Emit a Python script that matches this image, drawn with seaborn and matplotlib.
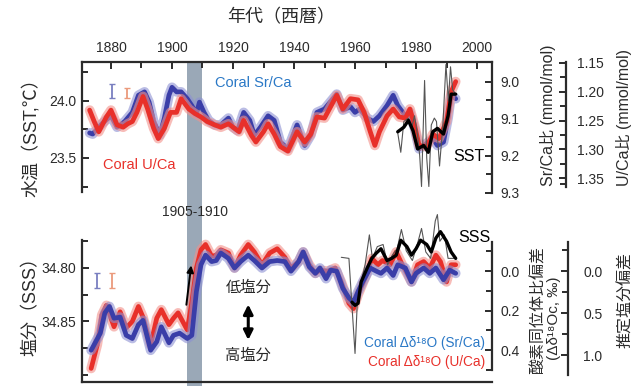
import matplotlib
matplotlib.use("Agg")
import pandas as pd
import matplotlib.pyplot as plt
import seaborn as sns

# ---- data ----
# top panel: coral SST reconstructions (deg C)
srca_years = [1873, 1874, 1877, 1880, 1882, 1884.5, 1887, 1889, 1891, 1892.5, 1894, 1896,
              1897.5, 1899, 1900, 1901.5, 1903, 1905, 1906.5, 1908, 1909, 1910.5, 1912, 1914,
              1916, 1918.5, 1920, 1921.5, 1923.5, 1925.5, 1927, 1929, 1931.5, 1933.5, 1935.5,
              1938, 1941, 1943.5, 1945.5, 1947.5, 1950, 1954, 1956, 1958.5, 1960, 1961.5, 1964,
              1966, 1968, 1970.5, 1972.5, 1974, 1976.5, 1978, 1979.5, 1981, 1983.5, 1985.5,
              1987, 1989, 1990.5, 1991.5, 1993]
srca_sst = [23.72, 23.71, 23.80, 23.87, 23.77, 23.82, 23.90, 24.05, 24.08, 23.99, 23.82, 23.70,
            23.85, 24.05, 24.12, 24.08, 24.08, 24.02, 23.96, 23.89, 23.99, 23.90, 23.83, 23.79,
            23.79, 23.85, 23.77, 23.74, 23.90, 23.83, 23.70, 23.77, 23.87, 23.83, 23.64,
            23.58, 23.79, 23.61, 23.70, 23.90, 23.93, 24.06, 23.92, 23.95, 23.90, 23.93, 23.85,
            23.82, 23.87, 23.96, 24.05, 23.96, 23.87, 23.90, 23.76, 23.58, 23.63, 23.67,
            23.61, 23.64, 23.85, 24.05, 24.02]

uca_years = [1873, 1874.5, 1876, 1878.5, 1880, 1882, 1884, 1885.5, 1887, 1888.5, 1890.5, 1892,
             1894, 1895.5, 1897.5, 1899.5, 1901.5, 1903, 1905.5, 1907.5, 1909.5, 1911.5, 1914,
             1916, 1918.5, 1920.5, 1922, 1923.5, 1926, 1927.5, 1930, 1931.5, 1933.5, 1935.5,
             1938, 1941, 1943.5, 1945.5, 1947.5, 1950, 1954, 1956, 1958.5, 1961, 1963, 1965,
             1966.5, 1968, 1970.5, 1972.5, 1974.5, 1976.5, 1978, 1979.5, 1981, 1983.5, 1985.5,
             1987.5, 1990, 1991.5, 1993]
uca_sst = [23.92, 23.82, 23.73, 23.86, 23.92, 23.79, 23.77, 23.80, 23.82, 23.90, 24.04, 23.93,
           23.76, 23.67, 23.76, 23.90, 23.90, 24.02, 23.93, 23.89, 23.86, 23.82, 23.79,
           23.77, 23.80, 23.76, 23.73, 23.83, 23.70, 23.64, 23.73, 23.80, 23.71, 23.60,
           23.56, 23.73, 23.64, 23.71, 23.86, 23.85, 24.05, 23.93, 24.02, 24.01, 23.90, 23.73,
           23.61, 23.73, 23.87, 23.93, 23.86, 23.85, 23.93, 23.79, 23.61, 23.60, 23.71,
           23.67, 23.82, 24.08, 24.17]

sst_years = [1974, 1976, 1977.5, 1979, 1980.5, 1982.5, 1984, 1985.5, 1987, 1989, 1990.5, 1991.5, 1993]
sst_obs = [23.73, 23.77, 23.83, 23.74, 23.58, 23.61, 23.55, 23.73, 23.76, 23.71, 23.87, 24.06, 24.06]

sst_raw_years = [1974, 1975, 1976, 1977.5, 1978.5, 1979.5, 1980.5, 1981.2, 1981.8, 1982.8, 1983.5,
                 1984.2, 1985, 1986, 1986.7, 1987.7, 1988.8, 1989.8, 1990.6, 1991.3, 1992, 1993]
sst_raw = [23.72, 23.55, 23.82, 23.85, 23.76, 23.87, 23.70, 23.52, 23.25, 24.18, 23.50,
           23.25, 23.79, 23.85, 23.82, 23.43, 23.79, 24.32, 24.00, 24.30, 24.10, 24.06]

# bottom panel: salinity from coral d18O residuals (SSS units)
d18_sr_years = [1873.5, 1875, 1876.5, 1878, 1879.5, 1881, 1883, 1885, 1887, 1889, 1890.5, 1893,
                1895, 1896.5, 1899, 1900.5, 1902.5, 1905, 1906.5, 1908, 1909.5, 1911, 1913,
                1914.5, 1916, 1918.5, 1920.5, 1922.5, 1925, 1927, 1929.5, 1932, 1934.5, 1937,
                1939, 1941.5, 1943, 1945, 1947, 1948.5, 1950.5, 1952, 1954, 1956, 1958, 1959.5,
                1961, 1962.5, 1965, 1967, 1968.5, 1970.5, 1972.5, 1974, 1976.5, 1978.5, 1980,
                1982.5, 1984.5, 1986.5, 1989, 1991, 1993]
d18_sr_sss = [34.877, 34.869, 34.861, 34.842, 34.836, 34.847, 34.846, 34.863, 34.866, 34.853,
              34.849, 34.877, 34.869, 34.855, 34.870, 34.863, 34.861, 34.866, 34.863, 34.822,
              34.797, 34.788, 34.794, 34.793, 34.786, 34.791, 34.800, 34.794, 34.788, 34.793,
              34.800, 34.794, 34.793, 34.794, 34.803, 34.794, 34.785, 34.799, 34.805, 34.800,
              34.810, 34.802, 34.803, 34.819, 34.828, 34.832, 34.822, 34.813, 34.800, 34.803,
              34.805, 34.800, 34.807, 34.797, 34.800, 34.813, 34.805, 34.800, 34.805, 34.800,
              34.811, 34.802, 34.805]

d18_u_years = [1873.5, 1875.5, 1877, 1878.5, 1881, 1883, 1885, 1887, 1889, 1890.5, 1893, 1895,
               1896.5, 1899, 1900.5, 1902, 1903.5, 1905, 1906.5, 1908, 1909.5, 1911, 1913,
               1914.5, 1916, 1918.5, 1920.5, 1922.5, 1925, 1927, 1929.5, 1932, 1934.5, 1937,
               1939, 1941.5, 1943, 1945, 1947, 1948.5, 1951, 1953.5, 1955.5, 1958, 1959.5, 1961,
               1963.5, 1965.5, 1967.5, 1969, 1971.5, 1973.5, 1975.5, 1978.5, 1980.5, 1982.5,
               1984.5, 1986.5, 1988, 1990, 1991.5, 1993]
d18_u_sss = [34.894, 34.872, 34.844, 34.835, 34.855, 34.841, 34.856, 34.850, 34.836, 34.846,
             34.872, 34.847, 34.839, 34.853, 34.847, 34.842, 34.850, 34.858, 34.832, 34.800,
             34.783, 34.778, 34.789, 34.788, 34.783, 34.786, 34.800, 34.788, 34.778, 34.785,
             34.797, 34.786, 34.782, 34.790, 34.800, 34.794, 34.785, 34.797, 34.805, 34.802,
             34.803, 34.800, 34.813, 34.833, 34.838, 34.825, 34.808, 34.791, 34.797, 34.793,
             34.797, 34.785, 34.797, 34.813, 34.797, 34.794, 34.800, 34.788, 34.794, 34.813,
             34.797, 34.797]

sss_years = [1959, 1960, 1961, 1962, 1964, 1965.5, 1967, 1968.5, 1970.5, 1972, 1973.5, 1975,
             1977, 1978.5, 1980, 1981.5, 1983.5, 1985, 1986.5, 1988, 1990, 1991.5, 1993]
sss_obs = [34.832, 34.835, 34.833, 34.813, 34.800, 34.791, 34.786, 34.782, 34.793, 34.791,
           34.788, 34.774, 34.780, 34.788, 34.782, 34.774, 34.778, 34.785, 34.772, 34.766,
           34.775, 34.785, 34.791]

sss_raw_years = [1955.5, 1958, 1960, 1960.7, 1962, 1963.3, 1964.7, 1965.7, 1967.3, 1969.2,
                 1970.7, 1972.2, 1973.8, 1975.2, 1976.8, 1978.8, 1980.5, 1981.8, 1983.2,
                 1984.8, 1986.3, 1987, 1987.8, 1989.3, 1990.5, 1993]
sss_raw = [34.790, 34.791, 34.880, 34.835, 34.813, 34.797, 34.769, 34.791, 34.780, 34.778,
           34.797, 34.788, 34.782, 34.764, 34.784, 34.793, 34.777, 34.763, 34.785, 34.791,
           34.756, 34.750, 34.775, 34.769, 34.791, 34.791]

# error bars (year, centre, half-width)
err_top_years = [1880.3, 1885.2]
err_top_mid = [24.09, 24.07]
err_top_half = [0.06, 0.04]
err_bot_years = [1875.4, 1880.3]
err_bot_mid = [34.812, 34.812]
err_bot_half = [0.007, 0.007]

BLUE, BLUE_HALO = "#3a3ea8", "#8c90d2"
RED, RED_HALO = "#e8302a", "#f3908a"
ERR_COLORS = ["#7a7fc0", "#eb9a7c"]
BAND = "#9aa8b7"
INK = "#2b2b2b"
XLIM = (1870.5, 2004.9)

sns.set_theme(style="white")
plt.rcParams["font.family"] = ["Liberation Sans", "Noto Sans CJK JP", "DejaVu Sans"]
plt.rcParams["axes.unicode_minus"] = False

fig = plt.figure(figsize=(6.42, 3.87), dpi=100)
L, W = 82 / 642, 410 / 642


def fy(px):
    return 1 - px / 387


def fx(px):
    return px / 642


# shaded 1905-1910 band through both panels
ax_bg = fig.add_axes([L, fy(386), W, fy(62) - fy(386)])
ax_bg.set_xlim(*XLIM)
ax_bg.axvspan(1905, 1910, color=BAND, lw=0)
ax_bg.axis("off")

ax_t = fig.add_axes([L, fy(193), W, fy(62) - fy(193)])
ax_b = fig.add_axes([L, fy(382), W, fy(240) - fy(382)])


def coral_line(ax, years, vals, color, halo, z):
    d = pd.DataFrame({"year": years, "v": vals})
    sns.lineplot(data=d, x="year", y="v", ax=ax, color=halo, linewidth=7, alpha=0.6,
                 zorder=z, clip_on=False)
    sns.lineplot(data=d, x="year", y="v", ax=ax, color=color, linewidth=3.4,
                 zorder=z + 0.1, clip_on=False)


def obs_line(ax, years, vals, raw_years, raw_vals, z):
    sns.lineplot(x=raw_years, y=raw_vals, ax=ax, color="#555555", linewidth=0.8,
                 zorder=z, clip_on=False)
    sns.lineplot(x=years, y=vals, ax=ax, color="black", linewidth=2.4, zorder=z + 0.1,
                 clip_on=False)


def error_marks(ax, years, mids, halves):
    for yr, m, h, c in zip(years, mids, halves, ERR_COLORS):
        ax.errorbar([yr], [m], yerr=[h], fmt="none", ecolor=c, elinewidth=1.3, capsize=2.5)


# ---- top panel ----
coral_line(ax_t, srca_years, srca_sst, BLUE, BLUE_HALO, 3)
coral_line(ax_t, uca_years, uca_sst, RED, RED_HALO, 4)
obs_line(ax_t, sst_years, sst_obs, sst_raw_years, sst_raw, 5)
error_marks(ax_t, err_top_years, err_top_mid, err_top_half)

ax_t.set_xlim(*XLIM)
ax_t.set_ylim(23.193, 24.342)
ax_t.xaxis.tick_top()
ax_t.set_xticks(range(1880, 2001, 20))
ax_t.set_xticks(range(1880, 2001, 10), minor=True)
ax_t.set_yticks([23.5, 24.0], labels=["23.5", "24.0"])
ax_t.set_yticks([23.25, 23.75, 24.25], minor=True)
ax_t.set_xlabel("")
ax_t.set_ylabel("")
for s in ["bottom", "right"]:
    ax_t.spines[s].set_visible(False)
ax_t.spines["left"].set_bounds(23.20, 24.342)

ax_t.text(1914, 24.16, "Coral Sr/Ca", color="#2a78c6", fontsize=10.5, va="center",
          bbox=dict(fc="white", ec="none", pad=1))
ax_t.text(1877.4, 23.44, "Coral U/Ca", color=RED, fontsize=10.5, va="center",
          bbox=dict(fc="white", ec="none", pad=1))
ax_t.text(2002.6, 23.51, "SST", color="black", fontsize=11.5, ha="right", va="center",
          zorder=7)

t1 = ax_t.twinx()
t1.set_ylim(9.300, 8.946)
t1.set_yticks([9.0, 9.1, 9.2, 9.3], labels=["9.0", "9.1", "9.2", "9.3"])
t1.set_yticks([9.05, 9.15, 9.25], minor=True)
t1.spines["right"].set_bounds(8.946, 9.300)

t2 = ax_t.twinx()
t2.spines["right"].set_position(("axes", (566 - 82) / 410))
t2.set_ylim(1.376, 1.1483)
t2.set_yticks([1.15, 1.20, 1.25, 1.30, 1.35], labels=["1.15", "1.20", "1.25", "1.30", "1.35"])
t2.set_yticks([1.175, 1.225, 1.275, 1.325, 1.36], minor=True)
t2.spines["right"].set_bounds(1.148, 1.366)

# ---- bottom panel ----
coral_line(ax_b, d18_u_years, d18_u_sss, RED, RED_HALO, 3)
coral_line(ax_b, d18_sr_years, d18_sr_sss, BLUE, BLUE_HALO, 4)
obs_line(ax_b, sss_years, sss_obs, sss_raw_years, sss_raw, 5)
error_marks(ax_b, err_bot_years, err_bot_mid, err_bot_half)

ax_b.set_xlim(*XLIM)
ax_b.set_ylim(34.9067, 34.7738)
ax_b.set_xticks(range(1880, 2001, 10), labels=[])
ax_b.set_yticks([34.80, 34.85], labels=["34.80", "34.85"])
ax_b.set_yticks([34.775, 34.825, 34.875, 34.90], minor=True)
ax_b.set_xlabel("")
ax_b.set_ylabel("")
for s in ["top", "right"]:
    ax_b.spines[s].set_visible(False)

ax_b.annotate("", xy=(1906.4, 34.795), xytext=(1904.6, 34.837),
              arrowprops=dict(arrowstyle="-|>", color="black", lw=1.4, mutation_scale=10),
              zorder=6)
ax_b.annotate("", xy=(1925.0, 34.8315), xytext=(1925.0, 34.870),
              arrowprops=dict(arrowstyle="<|-|>", color="black", lw=2.2, mutation_scale=14))
ax_b.text(1925.0, 34.818, "低塩分", fontsize=11, ha="center", va="center",
          bbox=dict(fc="white", ec="none", pad=3), zorder=7)
ax_b.text(1925.0, 34.882, "高塩分", fontsize=11, ha="center", va="center",
          bbox=dict(fc="white", ec="none", pad=3), zorder=7)
ax_b.text(2004.3, 34.7715, "SSS", color="black", fontsize=11.5, ha="right", va="center",
          zorder=7)
ax_b.text(2002.6, 34.870, "Coral Δδ¹⁸O (Sr/Ca)", color="#2a78c6", fontsize=9.8,
          ha="right", va="center", bbox=dict(fc="white", ec="none", pad=1), zorder=7)
ax_b.text(2002.6, 34.888, "Coral Δδ¹⁸O (U/Ca)", color=RED, fontsize=9.8,
          ha="right", va="center", bbox=dict(fc="white", ec="none", pad=1), zorder=7)

b1 = ax_b.twinx()
b1.set_ylim(0.562, -0.157)
b1.set_yticks([0.0, 0.2, 0.4], labels=["0.0", "0.2", "0.4"])
b1.set_yticks([-0.1, 0.1, 0.3, 0.5], minor=True)
b1.spines["right"].set_bounds(-0.146, 0.50)

b2 = ax_b.twinx()
b2.spines["right"].set_position(("axes", (568 - 82) / 410))
b2.set_ylim(1.321, -0.369)
b2.set_yticks([0.0, 0.5, 1.0], labels=["0.0", "0.5", "1.0"])
b2.set_yticks([-0.25, 0.25, 0.75], minor=True)
b2.spines["right"].set_bounds(-0.345, 1.24)

# common axis styling
for ax in [ax_t, ax_b, t1, t2, b1, b2]:
    ax.patch.set_visible(False)
    for sp in ax.spines.values():
        sp.set_color(INK)
        sp.set_linewidth(1.6)
    ax.tick_params(which="both", direction="in", colors=INK, labelcolor=INK,
                   labelsize=10, width=1.4)
    ax.tick_params(which="major", length=5)
    ax.tick_params(which="minor", length=4)
for ax in [t1, t2, b1, b2]:
    for s in ["top", "bottom", "left"]:
        ax.spines[s].set_visible(False)
    ax.tick_params(axis="x", which="both", length=0, labelbottom=False, labeltop=False)
ax_t.tick_params(axis="x", which="both", pad=5)
ax_t.tick_params(axis="y", pad=4)
ax_b.tick_params(axis="y", pad=4)
t1.tick_params(axis="y", pad=6)
b1.tick_params(axis="y", pad=6)
t2.tick_params(axis="y", pad=8)
b2.tick_params(axis="y", pad=11)

# axis titles
fig.text(fx(281), fy(18), "年代（西暦）", fontsize=13, ha="center", va="center", color=INK)
fig.text(fx(31), fy(133), "水温（SST,℃）", fontsize=13, rotation=90, ha="center",
         va="center", color=INK)
fig.text(fx(31), fy(302), "塩分（SSS）", fontsize=13, rotation=90, ha="center",
         va="center", color=INK)
fig.text(fx(548), fy(115), "Sr/Ca比 (mmol/mol)", fontsize=11.5, rotation=90,
         ha="center", va="center", color=INK)
fig.text(fx(624), fy(118), "U/Ca比 (mmol/mol)", fontsize=11.5, rotation=90,
         ha="center", va="center", color=INK)
fig.text(fx(538), fy(310), "酸素同位体比偏差", fontsize=11.5, rotation=90,
         ha="center", va="center", color=INK)
fig.text(fx(554), fy(318), "(Δδ¹⁸Oc, ‰)", fontsize=11, rotation=90,
         ha="center", va="center", color=INK)
fig.text(fx(625), fy(300), "推定塩分偏差", fontsize=11.5, rotation=90,
         ha="center", va="center", color=INK)
fig.text(fx(195), fy(212), "1905-1910", fontsize=10, ha="center", va="center", color=INK)

fig.savefig("out.png", dpi=100)
